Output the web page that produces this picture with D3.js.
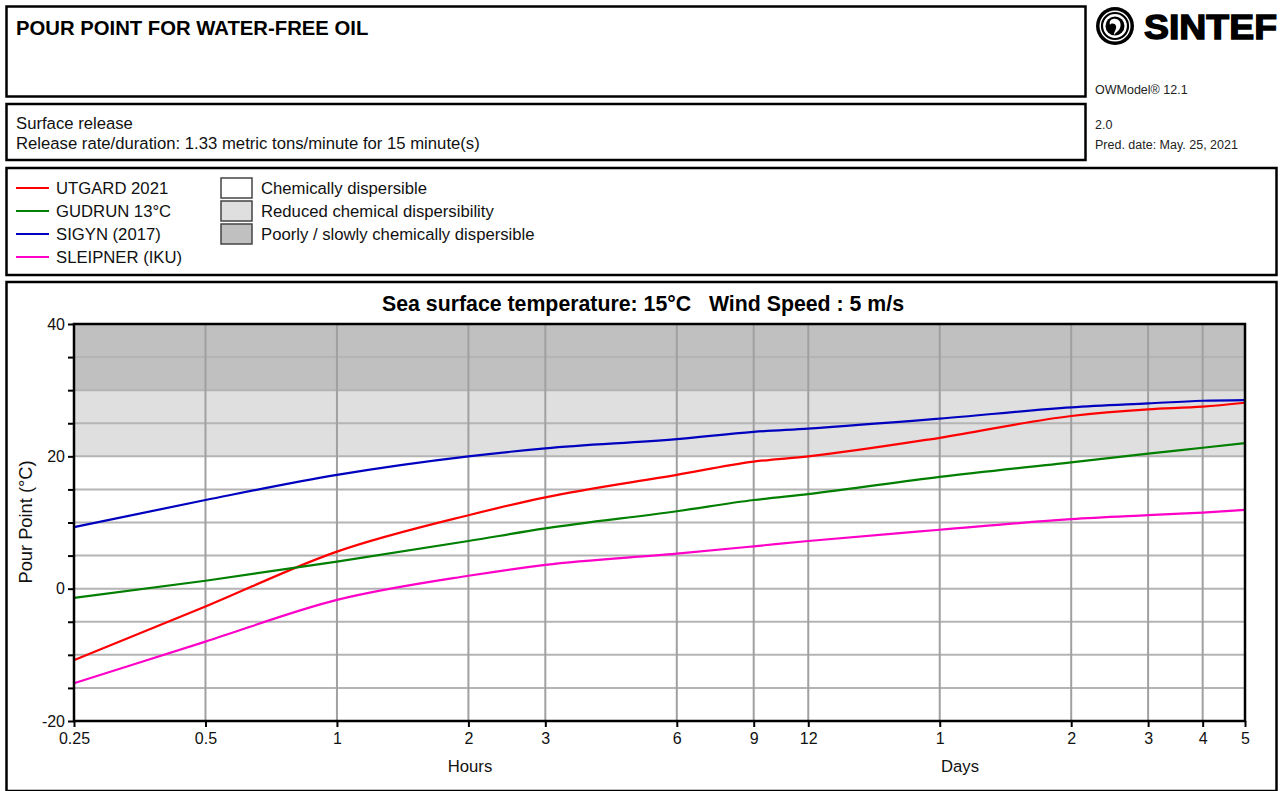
<!DOCTYPE html>
<html lang="en">
<head>
    <meta charset="UTF-8">
    <title>Pour point for water-free oil</title>
    <script src="https://d3js.org/d3.v7.min.js"></script>
    <style>
        body {
            margin: 0;
            background-color: #ffffff;
            font-family: 'Liberation Sans', Arial, sans-serif;
        }
        .box {
            fill: none;
            stroke: #000;
            stroke-width: 2.5px;
        }
        .txt {
            font-size: 16.7px;
            fill: #111;
        }
        .small {
            font-size: 12.5px;
            fill: #222;
        }
        .grid-v {
            stroke: #a0a0a0;
            stroke-width: 2px;
        }
        .grid-h {
            stroke: #b4b4b4;
            stroke-width: 2px;
        }
        .line {
            fill: none;
            stroke-width: 2.2px;
        }
    </style>
</head>
<body>
<div id="chart"></div>
<script>
    // time axis (hours, log scale) and tick labels
    const hours = [0.25, 0.5, 1, 2, 3, 6, 9, 12, 24, 48, 72, 96, 120];
    const tickLabels = ["0.25", "0.5", "1", "2", "3", "6", "9", "12", "1", "2", "3", "4", "5"];
    const yTicks = [-20, 0, 20, 40];

    // pour point (°C) read at the tick times
    const utgard   = [-10.8, -2.7, 5.6, 11.1, 13.8, 17.2, 19.2, 20.0, 22.8, 26.1, 27.1, 27.5, 28.1];
    const gudrun   = [-1.4, 1.2, 4.1, 7.2, 9.1, 11.7, 13.4, 14.3, 16.9, 19.1, 20.4, 21.3, 22.0];
    const sigyn    = [9.3, 13.4, 17.2, 20.0, 21.2, 22.6, 23.7, 24.2, 25.7, 27.4, 28.0, 28.4, 28.5];
    const sleipner = [-14.3, -8.0, -1.7, 1.95, 3.6, 5.3, 6.4, 7.2, 8.9, 10.5, 11.1, 11.5, 11.9];

    const seriesNames = ["UTGARD 2021", "GUDRUN 13°C", "SIGYN (2017)", "SLEIPNER (IKU)"];
    const seriesColors = ["#ff0000", "#007f00", "#0000bf", "#ff00c8"];
    const seriesValues = [utgard, gudrun, sigyn, sleipner];

    // dispersibility bands
    const bandNames = ["Chemically dispersible", "Reduced chemical dispersibility", "Poorly / slowly chemically dispersible"];
    const bandColors = ["#ffffff", "#dfdfdf", "#c0c0c0"];
    const bandRanges = [[-20, 20], [20, 30], [30, 40]];

    const W = 1283, H = 791;
    const svg = d3.select("#chart").append("svg")
        .attr("width", W)
        .attr("height", H);

    // ---- header boxes ----
    svg.append("rect").attr("class", "box").attr("x", 6.5).attr("y", 6.5).attr("width", 1079).attr("height", 90);
    svg.append("rect").attr("class", "box").attr("x", 6.5).attr("y", 104).attr("width", 1079).attr("height", 56);
    svg.append("rect").attr("class", "box").attr("x", 6.5).attr("y", 168).attr("width", 1270).attr("height", 107);
    svg.append("rect").attr("class", "box").attr("x", 6.5).attr("y", 282).attr("width", 1270).attr("height", 509);

    svg.append("text")
        .attr("x", 16).attr("y", 35)
        .style("font-size", "20.3px").style("font-weight", "bold").attr("fill", "#000")
        .text("POUR POINT FOR WATER-FREE OIL");

    svg.append("text").attr("class", "txt").attr("x", 16).attr("y", 129).text("Surface release");
    svg.append("text").attr("class", "txt").attr("x", 16).attr("y", 149)
        .text("Release rate/duration: 1.33 metric tons/minute for 15 minute(s)");

    svg.append("text").attr("class", "small").attr("x", 1095).attr("y", 94).text("OWModel® 12.1");
    svg.append("text").attr("class", "small").attr("x", 1095).attr("y", 129).text("2.0");
    svg.append("text").attr("class", "small").attr("x", 1095).attr("y", 149).text("Pred. date: May. 25, 2021");

    // SINTEF logo
    const logo = svg.append("g").attr("transform", "translate(1115,26)");
    logo.append("circle").attr("r", 19).attr("fill", "#000");
    logo.append("circle").attr("r", 15.5).attr("fill", "#fff");
    logo.append("circle").attr("r", 13).attr("fill", "none").attr("stroke", "#000").attr("stroke-width", 2.2);
    logo.append("circle").attr("r", 9.5).attr("fill", "#000");
    logo.append("path")
        .attr("d", "M-2,-7 C4,-8 7,-3 5,2 C4,5 1,6 -1,9 C-1,5 2,3 1,0 C0,-3 -4,-3 -5,-1 C-6,-5 -4,-6.5 -2,-7 Z")
        .attr("fill", "#fff");
    svg.append("text")
        .attr("x", 1144).attr("y", 39)
        .attr("textLength", 133).attr("lengthAdjust", "spacingAndGlyphs")
        .style("font-size", "35px").style("font-weight", "bold")
        .attr("fill", "#000").attr("stroke", "#000").attr("stroke-width", 1.4)
        .text("SINTEF");

    // ---- legend ----
    const legRows = [188, 211, 234, 257];
    seriesNames.forEach((name, i) => {
        svg.append("line")
            .attr("x1", 16).attr("x2", 49)
            .attr("y1", legRows[i]).attr("y2", legRows[i])
            .attr("stroke", seriesColors[i]).attr("stroke-width", 2.2);
        svg.append("text").attr("class", "txt")
            .attr("x", 56).attr("y", legRows[i] + 6)
            .text(name);
    });
    bandNames.forEach((name, i) => {
        svg.append("rect")
            .attr("x", 221).attr("y", legRows[i] - 10)
            .attr("width", 31).attr("height", 20)
            .attr("fill", bandColors[i])
            .attr("stroke", "#444").attr("stroke-width", 1.5);
        svg.append("text").attr("class", "txt")
            .attr("x", 261).attr("y", legRows[i] + 6)
            .text(name);
    });

    // ---- chart ----
    svg.append("text")
        .attr("x", 643).attr("y", 311)
        .attr("text-anchor", "middle")
        .style("font-size", "21.3px").style("font-weight", "bold").style("white-space", "pre")
        .attr("fill", "#000")
        .text("Sea surface temperature: 15°C   Wind Speed : 5 m/s");

    const x = d3.scaleLog().domain([0.25, 120]).range([74, 1245]);
    const y = d3.scaleLinear().domain([-20, 40]).range([721, 324]);

    const plot = svg.append("g");

    bandRanges.forEach((r, i) => {
        plot.append("rect")
            .attr("x", x(0.25)).attr("width", x(120) - x(0.25))
            .attr("y", y(r[1])).attr("height", y(r[0]) - y(r[1]))
            .attr("fill", bandColors[i]);
    });

    const yGrid = d3.range(-15, 40, 5);
    plot.selectAll(".grid-h")
        .data(yGrid)
        .enter().append("line")
        .attr("class", "grid-h")
        .attr("x1", x(0.25)).attr("x2", x(120))
        .attr("y1", d => y(d)).attr("y2", d => y(d));

    plot.selectAll(".grid-v")
        .data(hours.slice(1, -1))
        .enter().append("line")
        .attr("class", "grid-v")
        .attr("x1", d => x(d)).attr("x2", d => x(d))
        .attr("y1", y(40)).attr("y2", y(-20));

    const lineGen = d3.line()
        .x(d => x(d.h))
        .y(d => y(d.v))
        .curve(d3.curveMonotoneX);

    seriesValues.forEach((vals, i) => {
        plot.append("path")
            .datum(vals.map((v, k) => ({ h: hours[k], v: v })))
            .attr("class", "line")
            .attr("stroke", seriesColors[i])
            .attr("d", lineGen);
    });

    // frame
    plot.append("rect")
        .attr("x", x(0.25)).attr("y", y(40))
        .attr("width", x(120) - x(0.25)).attr("height", y(-20) - y(40))
        .attr("fill", "none").attr("stroke", "#000").attr("stroke-width", 2.5);

    // axes
    const xAxis = d3.axisBottom(x)
        .tickValues(hours)
        .tickFormat((d, i) => tickLabels[i])
        .tickSize(6).tickPadding(6);
    const gx = svg.append("g")
        .attr("transform", `translate(0,${y(-20)})`)
        .call(xAxis);

    const yAxis = d3.axisLeft(y)
        .tickValues(d3.range(-20, 41, 5))
        .tickFormat(d => yTicks.includes(d) ? d : "")
        .tickSize(6).tickPadding(3);
    const gy = svg.append("g")
        .attr("transform", `translate(${x(0.25)},0)`)
        .call(yAxis);

    [gx, gy].forEach(g => {
        g.select(".domain").remove();
        g.selectAll(".tick line").attr("stroke", "#000").attr("stroke-width", 2);
        g.selectAll(".tick text")
            .style("font-family", "'Liberation Sans', Arial, sans-serif")
            .style("font-size", "16px").attr("fill", "#111");
    });

    svg.append("text").attr("class", "txt")
        .attr("x", 470).attr("y", 772).attr("text-anchor", "middle")
        .text("Hours");
    svg.append("text").attr("class", "txt")
        .attr("x", 960).attr("y", 772).attr("text-anchor", "middle")
        .text("Days");

    svg.append("text").attr("class", "txt")
        .attr("transform", "translate(32,522) rotate(-90)")
        .attr("text-anchor", "middle")
        .style("font-size", "18.3px")
        .text("Pour Point (°C)");
</script>
</body>
</html>
